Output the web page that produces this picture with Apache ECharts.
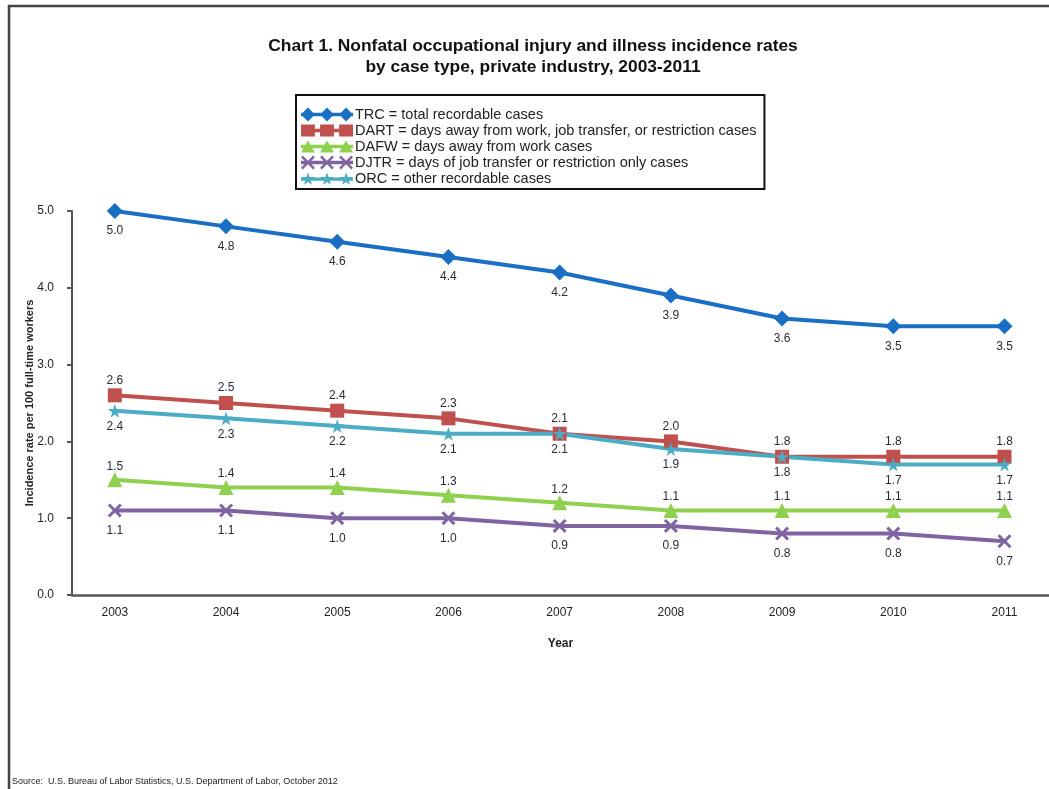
<!DOCTYPE html>
<html>
<head>
<meta charset="utf-8">
<title>Chart 1</title>
<script src="https://cdn.jsdelivr.net/npm/echarts@6/dist/echarts.min.js"></script>
<style>
  html, body { margin: 0; padding: 0; background: #fff; }
  #chart { width: 1049px; height: 789px; }
</style>
</head>
<body>
<div id="chart"></div>
<script>
  // years and rates, cases per 100 full-time workers
  var years = [2003, 2004, 2005, 2006, 2007, 2008, 2009, 2010, 2011]
  var trc = [5.0, 4.8, 4.6, 4.4, 4.2, 3.9, 3.6, 3.5, 3.5]
  var dart = [2.6, 2.5, 2.4, 2.3, 2.1, 2.0, 1.8, 1.8, 1.8]
  var dafw = [1.5, 1.4, 1.4, 1.3, 1.2, 1.1, 1.1, 1.1, 1.1]
  var djtr = [1.1, 1.1, 1.0, 1.0, 0.9, 0.9, 0.8, 0.8, 0.7]
  var orc = [2.4, 2.3, 2.2, 2.1, 2.1, 1.9, 1.8, 1.7, 1.7]
  var yTicks = [0, 1, 2, 3, 4, 5]

  var names = [
    'TRC = total recordable cases',
    'DART = days away from work, job transfer, or restriction cases',
    'DAFW = days away from work cases',
    'DJTR = days of job transfer or restriction only cases',
    'ORC = other recordable cases'
  ]

  var crossPath = 'path://M0,1.5 L1.5,0 L5,3.5 L8.5,0 L10,1.5 L6.5,5 L10,8.5 L8.5,10 L5,6.5 L1.5,10 L0,8.5 L3.5,5 Z'
  var starPath = 'path://M50,0 L61,35 L98,35 L68,57 L79,91 L50,70 L21,91 L32,57 L2,35 L39,35 Z'

  // legend icons: a line with three markers, like the original
  var iconLine = 'M0,6 L60,6 L60,10 L0,10 Z '
  function iconOf(shape) {
    var out = iconLine
    ;[8, 30, 52].forEach(function (cx) {
      if (shape === 'diamond') {
        out += 'M' + (cx - 8) + ',8 L' + cx + ',0 L' + (cx + 8) + ',8 L' + cx + ',16 Z '
      } else if (shape === 'rect') {
        out += 'M' + (cx - 8) + ',1 L' + (cx + 8) + ',1 L' + (cx + 8) + ',15 L' + (cx - 8) + ',15 Z '
      } else if (shape === 'triangle') {
        out += 'M' + cx + ',1 L' + (cx + 8) + ',15 L' + (cx - 8) + ',15 Z '
      } else if (shape === 'cross') {
        var x = cx - 8
        var p = [[0, 2], [2, 0], [8, 6], [14, 0], [16, 2], [10, 8], [16, 14], [14, 16], [8, 10], [2, 16], [0, 14], [6, 8]]
        out += 'M' + p.map(function (q) { return (x + q[0]) + ',' + q[1] }).join(' L') + ' Z '
      } else {
        var s = [[50, 0], [61, 35], [98, 35], [68, 57], [79, 91], [50, 70], [21, 91], [32, 57], [2, 35], [39, 35]]
        out += 'M' + s.map(function (q) { return (cx - 8 + q[0] * 0.16).toFixed(2) + ',' + (q[1] * 0.16).toFixed(2) }).join(' L') + ' Z '
      }
    })
    return 'path://' + out
  }

  function pairs(vals) {
    return years.map(function (y, i) { return [y, vals[i]] })
  }

  function makeSeries(name, vals, color, symbol, size, pos, dist) {
    return {
      name: name,
      type: 'line',
      data: pairs(vals),
      symbol: symbol,
      symbolSize: size,
      lineStyle: { color: color, width: 4 },
      itemStyle: { color: color },
      label: {
        show: true,
        position: pos,
        distance: dist,
        color: '#2a2a3a',
        fontSize: 12,
        fontFamily: 'Liberation Sans',
        formatter: function (p) { return p.value[1].toFixed(1) }
      },
      emphasis: { disabled: true },
      animation: false
    }
  }

  var chart = echarts.init(document.getElementById('chart'))
  chart.setOption({
    backgroundColor: '#fff',
    title: {
      text: 'Chart 1. Nonfatal occupational injury and illness incidence rates\nby case type, private industry, 2003-2011',
      left: 528,
      top: 31,
      textAlign: 'center',
      textStyle: {
        fontFamily: 'Liberation Sans',
        fontWeight: 'bold',
        fontSize: 17.4,
        lineHeight: 21,
        color: '#111'
      }
    },
    graphic: [
      {
        type: 'rect',
        shape: { x: 9, y: 6, width: 1200, height: 1000 },
        style: { fill: 'none', stroke: '#444', lineWidth: 2.5 },
        silent: true
      },
      {
        type: 'text',
        left: 12,
        top: 777,
        style: {
          text: 'Source:  U.S. Bureau of Labor Statistics, U.S. Department of Labor, October 2012',
          fontSize: 9,
          fontFamily: 'Liberation Sans',
          fill: '#222'
        }
      }
    ],
    legend: {
      orient: 'vertical',
      left: 296,
      top: 95,
      padding: [12, 8, 3, 5],
      itemGap: 1,
      itemWidth: 52,
      itemHeight: 14,
      borderColor: '#111',
      borderWidth: 2,
      textStyle: { fontSize: 14.5, lineHeight: 14, fontFamily: 'Liberation Sans', color: '#222', padding: [0, 0, 0, -3] },
      data: [
        { name: names[0], icon: iconOf('diamond') },
        { name: names[1], icon: iconOf('rect') },
        { name: names[2], icon: iconOf('triangle') },
        { name: names[3], icon: iconOf('cross') },
        { name: names[4], icon: iconOf('star') }
      ]
    },
    grid: { left: 72, right: 0, top: 211, bottom: 194 },
    xAxis: {
      type: 'value',
      min: 2002.615,
      max: 2011.4,
      name: 'Year',
      nameLocation: 'middle',
      nameGap: 43,
      nameTextStyle: { fontWeight: 'bold', fontSize: 12, fontFamily: 'Liberation Sans', color: '#222' },
      axisLine: { lineStyle: { color: '#555', width: 2.5 } },
      axisTick: { show: false },
      splitLine: { show: false },
      axisLabel: {
        customValues: years,
        margin: 12,
        fontSize: 12,
        fontFamily: 'Liberation Sans',
        color: '#222',
        formatter: function (v) { return String(v) }
      }
    },
    yAxis: {
      type: 'value',
      min: 0,
      max: 5,
      interval: 1,
      name: 'Incidence rate per 100 full-time workers',
      nameLocation: 'middle',
      nameGap: 37,
      nameMoveOverlap: false,
      nameTextStyle: { fontWeight: 'bold', fontSize: 11, fontFamily: 'Liberation Sans', color: '#222' },
      axisLine: { show: true, lineStyle: { color: '#555', width: 2 } },
      axisTick: { show: true, length: 5, lineStyle: { color: '#555', width: 2 }, customValues: yTicks },
      splitLine: { show: false },
      axisLabel: {
        margin: 18,
        fontSize: 12,
        fontFamily: 'Liberation Sans',
        color: '#222',
        formatter: function (v) { return v.toFixed(1) }
      }
    },
    series: [
      makeSeries(names[0], trc, '#1a6fc4', 'diamond', 16, 'bottom', 6),
      makeSeries(names[1], dart, '#c0504d', 'rect', 14, 'top', 2),
      makeSeries(names[2], dafw, '#8fd14f', 'triangle', 15, 'top', 0),
      makeSeries(names[3], djtr, '#8064a2', crossPath, 14, 'bottom', 7),
      makeSeries(names[4], orc, '#4bacc6', starPath, 14, 'bottom', 3)
    ]
  })
</script>
</body>
</html>
